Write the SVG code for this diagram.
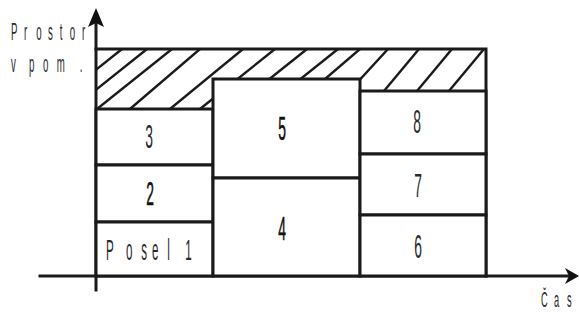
<svg xmlns="http://www.w3.org/2000/svg" width="579" height="323" viewBox="0 0 579 323">
<style>
.ln{stroke:#1a1a1a;stroke-width:3;fill:none;stroke-linecap:square}
.bx{stroke:#1a1a1a;stroke-width:3;fill:#fff}
.ht{stroke:#1a1a1a;stroke-width:2.4;fill:none}
.ah{fill:#111}
.t{font-family:"Liberation Sans",Arial,sans-serif;fill:#2a2a2a}
.d{font-size:33px;text-anchor:middle}
.db{font-size:33px;text-anchor:middle;fill:#111;stroke:#111;stroke-width:0.6}
</style>
<defs>
<clipPath id="hc"><polygon points="96,49 486,49 486,91 360,91 360,79 213,79 213,109 96,109"/></clipPath>
</defs>
<g id="hatch">
<g clip-path="url(#hc)" class="ht">
<line x1="122" y1="49" x2="47" y2="109"/>
<line x1="147" y1="49" x2="72" y2="109"/>
<line x1="172" y1="49" x2="97" y2="109"/>
<line x1="200" y1="49" x2="130" y2="109"/>
<line x1="243" y1="49" x2="170" y2="109"/>
<line x1="275" y1="49" x2="200" y2="109"/>
<line x1="307" y1="49" x2="232" y2="109"/>
<line x1="338" y1="49" x2="263" y2="109"/>
<line x1="360" y1="49" x2="290" y2="109"/>
<line x1="388" y1="49" x2="333" y2="109"/>
<line x1="419" y1="49" x2="369" y2="109"/>
<line x1="452" y1="49" x2="402" y2="109"/>
<line x1="484" y1="49" x2="434" y2="109"/>
</g>
<polyline class="ln" points="96,49 486,49 486,276"/>
</g>
<g id="axes">
<line class="ln" x1="96" y1="290" x2="96" y2="22"/>
<path class="ah" d="M96,8 L104,27 L96,23 L88,27 z"/>
<line class="ln" x1="40" y1="276" x2="570" y2="276"/>
<path class="ah" d="M579,276 L565,284 L569,276 L565,268 z"/>
</g>
<g id="node-3"><rect class="bx" x="96" y="109" width="117" height="56"/><text class="t d" transform="translate(149,148) scale(0.42,1)">3</text></g>
<g id="node-2"><rect class="bx" x="96" y="165" width="117" height="57"/><text class="t db" transform="translate(150,205) scale(0.42,1)">2</text></g>
<g id="node-1"><rect class="bx" x="96" y="222" width="117" height="54"/><text class="t" font-size="29" transform="translate(106,260) scale(0.4,1)" x="0 50 88 115 153 198">Posel1</text></g>
<g id="node-5"><rect class="bx" x="213" y="79" width="147" height="99"/><text class="t db" transform="translate(282,140) scale(0.42,1)">5</text></g>
<g id="node-4"><rect class="bx" x="213" y="178" width="147" height="98"/><text class="t db" transform="translate(282,240) scale(0.42,1)">4</text></g>
<g id="node-8"><rect class="bx" x="360" y="91" width="126" height="63"/><text class="t d" transform="translate(417,133) scale(0.42,1)">8</text></g>
<g id="node-7"><rect class="bx" x="360" y="154" width="126" height="61"/><text class="t d" transform="translate(418,197) scale(0.42,1)">7</text></g>
<g id="node-6"><rect class="bx" x="360" y="215" width="126" height="61"/><text class="t d" transform="translate(418,258) scale(0.42,1)">6</text></g>
<g id="labels">
<text class="t" font-size="23" transform="translate(11,40) scale(0.42,1)" x="0 31 60 88 116 140 169">Prostor</text>
<text class="t" font-size="23" transform="translate(11,72) scale(0.42,1)" x="0 43 76 109 164">vpom.</text>
<text class="t" font-size="22" transform="translate(541,307) scale(0.42,1)" x="0 31 62">Čas</text>
</g>
</svg>
